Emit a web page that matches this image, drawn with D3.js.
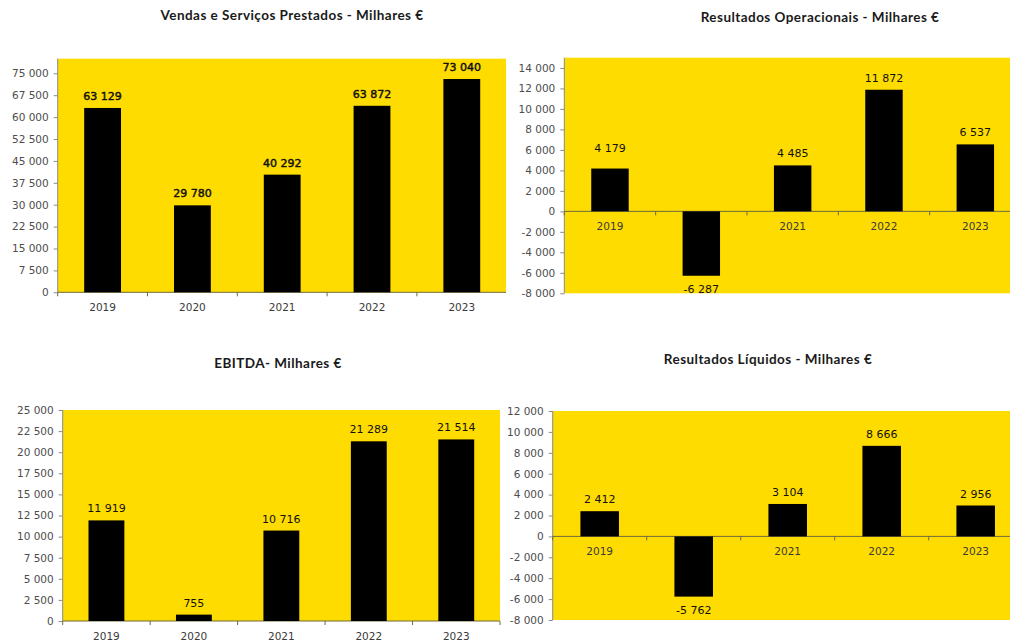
<!DOCTYPE html>
<html>
<head>
<meta charset="utf-8">
<script src="https://cdn.jsdelivr.net/npm/d3@7"></script>
<style>
  html, body { margin: 0; padding: 0; background: #fff; }
  svg { display: block; }
</style>
</head>
<body>
<svg id="chart" width="1010" height="642"></svg>
<script>
// Years shown on every panel
const years = ["2019", "2020", "2021", "2022", "2023"];

// Values (thousands of euros)
const vendas = [63129, 29780, 40292, 63872, 73040];
const resultadosOperacionais = [4179, -6287, 4485, 11872, 6537];
const ebitda = [11919, 755, 10716, 21289, 21514];
const resultadosLiquidos = [2412, -5762, 3104, 8666, 2956];

// Tick values of each value axis
const vendasTicks = [0, 7500, 15000, 22500, 30000, 37500, 45000, 52500, 60000, 67500, 75000];
const operTicks = [-8000, -6000, -4000, -2000, 0, 2000, 4000, 6000, 8000, 10000, 12000, 14000];
const ebitdaTicks = [0, 2500, 5000, 7500, 10000, 12500, 15000, 17500, 20000, 22500, 25000];
const liquidosTicks = [-8000, -6000, -4000, -2000, 0, 2000, 4000, 6000, 8000, 10000, 12000];

// Titles
const titles = [
  "Vendas e Serviços Prestados - Milhares €",
  "Resultados Operacionais - Milhares  €",
  "EBITDA- Milhares €",
  "Resultados Líquidos - Milhares €"
];

const YELLOW = "#FFDC00";
const NUM_FONT = "'DejaVu Sans', sans-serif";
const TITLE_FONT = "Lato, 'Open Sans', sans-serif";

const fmt = d3.formatLocale({ decimal: ",", thousands: " ", grouping: [3], currency: ["", " €"], minus: "-" }).format(",d");

const svg = d3.select("#chart");

// Panel layout: plot box, value domain, title position
const panels = [
  { title: titles[0], values: vendas, ticks: vendasTicks, domain: [0, 80000],
    x0: 57.7, x1: 506.7, yTop: 58.7, yBottom: 292.3, clipRight: 506,
    titleX: 292, titleY: 20, boldLabels: true, nudge: [0, 0, 0, 0, 0] },
  { title: titles[1], values: resultadosOperacionais, ticks: operTicks, domain: [-8000, 15000],
    x0: 564.3, x1: 1021, yTop: 57.7, yBottom: 293.3, clipRight: 1010,
    titleX: 820, titleY: 21.5, boldLabels: false, nudge: [-9, 0, 0, 0, 0] },
  { title: titles[2], values: ebitda, ticks: ebitdaTicks, domain: [0, 25000],
    x0: 62.7, x1: 500, yTop: 410, yBottom: 621, clipRight: 500,
    titleX: 278, titleY: 367.5, boldLabels: false, nudge: [0, 0, 0, 0, 0] },
  { title: titles[3], values: resultadosLiquidos, ticks: liquidosTicks, domain: [-8000, 12000],
    x0: 552.7, x1: 1022.7, yTop: 411, yBottom: 620, clipRight: 1010,
    titleX: 768, titleY: 364, boldLabels: false, nudge: [0, 0, 0, 0, 0] }
];

panels.forEach((p, i) => {
  const g = svg.append("g").attr("class", "panel-" + i);

  const x = d3.scaleBand()
    .domain(years)
    .range([p.x0, p.x1])
    .paddingInner(0.59)
    .paddingOuter(0.295);

  const y = d3.scaleLinear()
    .domain(p.domain)
    .range([p.yBottom, p.yTop]);

  // Title
  g.append("text")
    .attr("x", p.titleX)
    .attr("y", p.titleY)
    .attr("text-anchor", "middle")
    .attr("font-family", TITLE_FONT)
    .attr("font-weight", "bold")
    .attr("font-size", 13.5)
    .attr("letter-spacing", 0.45)
    .attr("fill", "#1a1a1a")
    .text(p.title);

  // Plot background
  g.append("rect")
    .attr("x", p.x0)
    .attr("y", y(p.domain[1]))
    .attr("width", p.clipRight - p.x0)
    .attr("height", y(p.domain[0]) - y(p.domain[1]))
    .attr("fill", YELLOW);

  const zero = y(0);

  // Value axis
  const yAxis = g.append("g")
    .attr("transform", `translate(${p.x0},0)`)
    .call(d3.axisLeft(y).tickValues(p.ticks).tickSize(4).tickPadding(5).tickFormat(fmt));
  yAxis.select(".domain").remove();
  yAxis.selectAll(".tick line").attr("stroke", "#8a8a8a");
  yAxis.selectAll(".tick text")
    .attr("font-family", NUM_FONT)
    .attr("font-size", 10.5)
    .attr("fill", "#4d4d4d");
  g.append("line")
    .attr("x1", p.x0).attr("x2", p.x0)
    .attr("y1", y(p.domain[1])).attr("y2", y(p.domain[0]))
    .attr("stroke", "#8a8a8a").attr("stroke-width", 1);

  // Category axis along the zero line, ticks at band boundaries
  g.append("line")
    .attr("x1", p.x0).attr("x2", p.clipRight)
    .attr("y1", zero).attr("y2", zero)
    .attr("stroke", "#6f6a3a").attr("stroke-width", 1);
  const bounds = d3.range(years.length + 1).map(k => p.x0 + k * x.step()).filter(v => v <= p.clipRight + 0.5);
  g.selectAll("line.xtick")
    .data(bounds)
    .join("line")
    .attr("class", "xtick")
    .attr("x1", d => d).attr("x2", d => d)
    .attr("y1", zero).attr("y2", zero + 4)
    .attr("stroke", "#6f6a3a").attr("stroke-width", 1);

  // Year labels (drawn under the bars, so a negative bar hides its own label)
  g.selectAll("text.year")
    .data(years)
    .join("text")
    .attr("class", "year")
    .attr("x", d => x(d) + x.bandwidth() / 2)
    .attr("y", zero + 19)
    .attr("text-anchor", "middle")
    .attr("font-family", NUM_FONT)
    .attr("font-size", 10.5)
    .attr("fill", "#3a3a3a")
    .text(d => d);

  // Bars
  g.selectAll("rect.bar")
    .data(p.values)
    .join("rect")
    .attr("class", "bar")
    .attr("x", (d, k) => x(years[k]))
    .attr("width", x.bandwidth())
    .attr("y", d => Math.min(y(d), zero))
    .attr("height", d => Math.abs(y(d) - zero))
    .attr("fill", "#000");

  // Value labels
  g.selectAll("text.value")
    .data(p.values)
    .join("text")
    .attr("class", "value")
    .attr("x", (d, k) => x(years[k]) + x.bandwidth() / 2)
    .attr("y", (d, k) => (d >= 0 ? y(d) - 8 : y(d) + 17) + p.nudge[k])
    .attr("text-anchor", "middle")
    .attr("font-family", NUM_FONT)
    .attr("font-size", 11)
    .attr("fill", "#111")
    .attr("stroke", p.boldLabels ? "#111" : "none")
    .attr("stroke-width", p.boldLabels ? 0.45 : 0)
    .text(d => fmt(d));
});
</script>
</body>
</html>
